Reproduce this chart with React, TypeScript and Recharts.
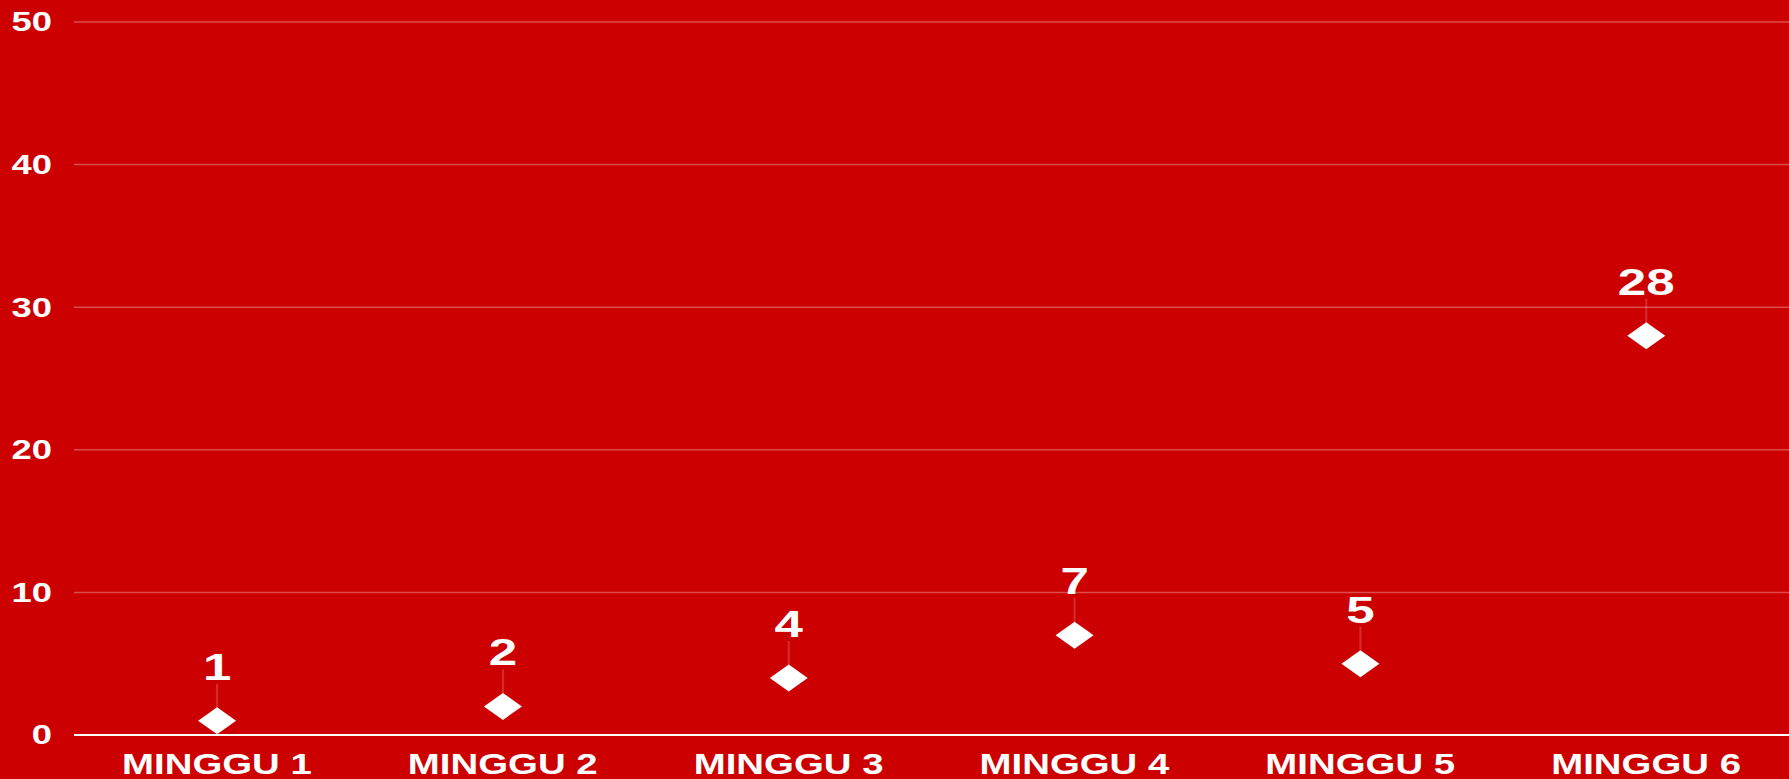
import * as React from 'react';
import { Bar, BarChart, CartesianGrid, LabelList, XAxis, YAxis } from 'recharts';

const weeks = ['MINGGU 1', 'MINGGU 2', 'MINGGU 3', 'MINGGU 4', 'MINGGU 5', 'MINGGU 6'];
const counts = [1, 2, 4, 7, 5, 28];
const yTicks = [0, 10, 20, 30, 40, 50];

const data = weeks.map((week, i) => ({ week, value: counts[i] }));

const FONT = '"Liberation Sans", Arial, sans-serif';

const Diamond = (props: any) => {
    const { x, y, width } = props;
    const cx = x + width / 2;
    const hw = 19;
    const hh = 13.5;
    return (
        <path
            d={`M${cx},${y - hh} L${cx + hw},${y} L${cx},${y + hh} L${cx - hw},${y} Z`}
            fill="#ffffff"
        />
    );
};

const PointLabel = (props: any) => {
    const { x, y, width, value } = props;
    const cx = x + width / 2;
    return (
        <g>
            <line x1={cx} x2={cx} y1={y - 37} y2={y - 13} stroke="rgba(255,255,255,0.18)" strokeWidth={2}/>
            <g transform={`translate(${cx},${y - 41})`}>
                <text
                    transform="scale(1.38,1)"
                    textAnchor="middle"
                    fill="#ffffff"
                    fontFamily={FONT}
                    fontWeight="bold"
                    fontSize={37}
                >
                    {value}
                </text>
            </g>
        </g>
    );
};

const YTick = (props: any) => {
    const { x, y, payload } = props;
    return (
        <g transform={`translate(${x},${y})`}>
            <text
                transform="scale(1.3,1)"
                textAnchor="end"
                dominantBaseline="central"
                fill="#ffffff"
                fontFamily={FONT}
                fontWeight="bold"
                fontSize={28}
            >
                {payload.value}
            </text>
        </g>
    );
};

const XTick = (props: any) => {
    const { x, y, payload } = props;
    return (
        <g transform={`translate(${x},${y})`}>
            <text
                transform="scale(1.28,1)"
                y={39}
                textAnchor="middle"
                fill="#ffffff"
                fontFamily={FONT}
                fontWeight="bold"
                fontSize={30}
            >
                {payload.value}
            </text>
        </g>
    );
};

export default function App() {
    return (
        <div style={{ position: 'absolute', left: 0, top: 0, width: 1789, height: 779, background: '#cc0000' }}>
            <BarChart width={1789} height={779} data={data} margin={{ top: 22, right: 0, bottom: 0, left: 0 }}>
                <CartesianGrid vertical={false} stroke="rgba(255,255,255,0.3)" strokeWidth={1.5}/>
                <XAxis
                    dataKey="week"
                    height={44}
                    tickLine={false}
                    tickSize={0}
                    tickMargin={0}
                    axisLine={{ stroke: '#ffffff', strokeWidth: 2 }}
                    tick={<XTick/>}
                    interval={0}
                />
                <YAxis
                    width={74}
                    domain={[0, 50]}
                    ticks={yTicks}
                    axisLine={false}
                    tickLine={false}
                    tickSize={0}
                    tickMargin={22}
                    tick={<YTick/>}
                />
                <Bar dataKey="value" shape={<Diamond/>} isAnimationActive={false}>
                    <LabelList dataKey="value" content={<PointLabel/>}/>
                </Bar>
            </BarChart>
        </div>
    );
}
